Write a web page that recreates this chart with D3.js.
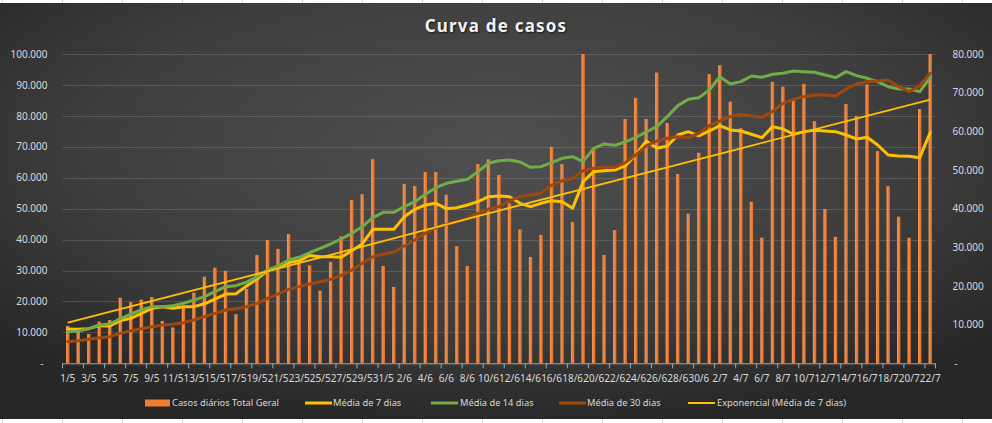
<!DOCTYPE html>
<html><head><meta charset="utf-8">
<script src="https://cdn.jsdelivr.net/npm/d3@7"></script>
<style>
html,body{margin:0;padding:0;background:#ffffff;}
svg{display:block;}
text{font-family:"Noto Sans","Open Sans",sans-serif;}
</style></head>
<body>
<svg id="chart" width="992" height="423"></svg>
<script>
// ---------------- DATA ----------------
const categories = ["1/5","2/5","3/5","4/5","5/5","6/5","7/5","8/5","9/5","10/5","11/5","12/5","13/5","14/5","15/5","16/5","17/5","18/5","19/5","20/5","21/5","22/5","23/5","24/5","25/5","26/5","27/5","28/5","29/5","30/5","31/5",
"1/6","2/6","3/6","4/6","5/6","6/6","7/6","8/6","9/6","10/6","11/6","12/6","13/6","14/6","15/6","16/6","17/6","18/6","19/6","20/6","21/6","22/6","23/6","24/6","25/6","26/6","27/6","28/6","29/6","30/6",
"1/7","2/7","3/7","4/7","5/7","6/7","7/7","8/7","9/7","10/7","11/7","12/7","13/7","14/7","15/7","16/7","17/7","18/7","19/7","20/7","21/7","22/7"];

// Casos diários Total Geral (left axis)
const casosDiarios = [12100,10200,9500,13500,14000,21200,19800,20600,21400,13700,11600,18300,22800,28000,30900,29900,15900,24000,35000,39900,37000,41800,32300,31700,23500,32800,41000,52800,54700,66000,31500,
24700,58000,57300,61900,61900,54500,37900,31500,64400,66000,60900,51700,43300,34400,41500,70000,64400,45700,100000,69700,35000,43100,79000,85800,79000,94000,77700,61200,48400,68100,
93500,96400,84600,76000,52200,40600,91000,89400,85100,90300,78300,49900,40900,83800,80000,90200,68600,57300,47400,40600,82200,100000];

// Moving averages (right axis, thousands)
const media7 = [8.87,8.79,8.96,9.73,9.65,11.03,11.63,12.93,14.22,14.65,14.22,14.65,14.65,15.4,16.6,17.9,18.0,20.0,21.8,24.0,24.9,26.1,26.5,27.9,27.58,27.58,27.41,29.13,30.86,34.65,34.65,34.65,37.93,39.83,40.95,41.38,40.0,40.26,40.95,41.81,43.1,43.27,43.1,41.38,40.52,41.38,42.07,41.81,40.09,46.98,49.57,49.83,50.0,51.04,53.88,57.5,55.6,56.21,59.05,59.92,58.8,60.09,61.47,60.35,60.09,59.23,58.36,61.21,60.61,59.23,59.92,60.26,60.09,59.92,59.05,58.02,58.45,56.47,53.88,53.62,53.53,53.19,59.74];
const media14 = [8.18,8.35,8.96,9.91,10.17,11.54,12.75,13.79,14.65,14.65,14.91,15.51,16.37,17.24,18.53,19.82,20.08,21.0,22.41,24.13,25.17,26.72,27.41,28.62,29.74,30.86,32.15,33.62,35.34,37.67,39.05,39.05,40.52,41.81,43.71,45.43,46.55,47.07,47.59,49.57,51.73,52.41,52.59,52.07,50.69,50.86,51.9,53.02,53.45,52.15,55.6,56.73,56.38,57.24,58.45,59.83,61.21,63.8,66.64,68.28,68.7,70.69,74.14,72.25,72.85,74.31,73.97,74.75,75.0,75.61,75.43,75.26,74.57,73.88,75.43,74.4,73.71,72.85,71.55,70.95,70.95,70.26,73.88];
const media30 = [5.6,5.85,6.2,6.63,6.89,7.75,8.44,8.96,9.47,9.91,10.08,10.51,11.2,12.06,12.93,13.79,14.13,14.65,15.51,16.81,17.93,19.13,19.82,20.51,21.11,21.72,22.75,24.13,25.86,27.58,28.19,28.79,30.34,31.89,33.62,35.08,35.95,36.64,37.5,38.79,39.9,40.52,42.07,43.1,43.53,43.97,46.12,47.16,47.76,49.83,50.43,50.69,50.69,51.9,53.88,56.21,57.5,58.19,58.62,58.36,59.5,61.47,62.68,63.8,64.4,63.97,63.62,65.09,67.25,68.28,68.97,69.4,69.4,69.14,70.95,72.25,72.85,73.02,73.28,71.55,70.26,71.81,75.0];

// Exponencial (Média de 7 dias) trendline, read at a few dates (right axis, thousands)
const trendDates = ["1/5","18/5","30/5","10/6","3/7","22/7"];
const trendValues = [10.5,22.4,30.9,38.8,54.9,68.2];

const leftTicks = [0,10000,20000,30000,40000,50000,60000,70000,80000,90000,100000];
const rightTicks = [0,10000,20000,30000,40000,50000,60000,70000,80000];

const titleText = "Curva de casos";
const legendLabels = ["Casos diários Total Geral","Média de 7 dias","Média de 14 dias","Média de 30 dias","Exponencial (Média de 7 dias)"];

// ---------------- DRAW ----------------
const W = 992, H = 423;
const svg = d3.select("#chart");
const defs = svg.append("defs");

const bg = defs.append("radialGradient").attr("id","bg")
  .attr("cx","50%").attr("cy","35%").attr("r","68%");
bg.append("stop").attr("offset","0%").attr("stop-color","#4f4f4f");
bg.append("stop").attr("offset","60%").attr("stop-color","#3e3e3e");
bg.append("stop").attr("offset","100%").attr("stop-color","#272727");

const barGrad = defs.append("linearGradient").attr("id","barg").attr("x1","0").attr("x2","1").attr("y1","0").attr("y2","0");
barGrad.append("stop").attr("offset","0%").attr("stop-color","#f39a5c");
barGrad.append("stop").attr("offset","100%").attr("stop-color","#e2691c");

// spreadsheet strips
svg.append("rect").attr("x",0).attr("y",0).attr("width",W).attr("height",H).attr("fill","#ffffff");
const colLines = d3.range(2.5, W, 60);
svg.append("g").selectAll("line").data(colLines).join("line")
  .attr("x1",d=>d).attr("x2",d=>d).attr("y1",0).attr("y2",H)
  .attr("stroke","#d4d4d4").attr("stroke-width",1);

// chart area background
svg.append("rect").attr("x",0).attr("y",3).attr("width",W).attr("height",416).attr("fill","url(#bg)");

const plotL = 62.5, plotR = 935.5, plotT = 54, plotB = 363.3;

const x = d3.scaleBand().domain(categories).range([plotL, plotR])
  .paddingInner(0.68).paddingOuter(0.34);
const bw = x.bandwidth();
const step = x.step();
const cx = c => x(c) + bw/2;

const yL = d3.scaleLinear().domain([0,100000]).range([plotB, plotT]);
const yR = d3.scaleLinear().domain([0,80000]).range([plotB, plotT]);

const fmtLocale = d3.formatLocale({decimal:",", thousands:".", grouping:[3], currency:["",""]});
const fmt = v => v === 0 ? "-" : fmtLocale.format(",")(v);

// gridlines
svg.append("g").selectAll("line").data(leftTicks.filter(t=>t>0)).join("line")
  .attr("x1",plotL).attr("x2",plotR)
  .attr("y1",d=>Math.round(yL(d))+0.5).attr("y2",d=>Math.round(yL(d))+0.5)
  .attr("stroke","#ffffff").attr("stroke-opacity",0.14).attr("stroke-width",1);

// left axis
const axL = svg.append("g").attr("transform",`translate(${plotL-12},0)`)
  .call(d3.axisLeft(yL).tickValues(leftTicks).tickFormat(fmt).tickSize(0));
axL.select(".domain").remove();
axL.selectAll("text").attr("fill","#d9d9d9").attr("font-size",10)
  .attr("dx", d => d===0 ? -4 : 0);

// right axis
const axR = svg.append("g").attr("transform",`translate(${plotR+14},0)`)
  .call(d3.axisRight(yR).tickValues(rightTicks).tickFormat(fmt).tickSize(0));
axR.select(".domain").remove();
axR.selectAll("text").attr("fill","#d9d9d9").attr("font-size",10)
  .attr("dx", d => d===0 ? 2 : 0);

// bars
svg.append("g").selectAll("rect").data(casosDiarios).join("rect")
  .attr("x",(d,i)=>x(categories[i]))
  .attr("width",bw)
  .attr("y",d=>yL(d))
  .attr("height",d=>plotB - yL(d))
  .attr("fill","url(#barg)");

// x axis baseline and ticks
svg.append("line").attr("x1",plotL).attr("x2",plotR).attr("y1",plotB+0.5).attr("y2",plotB+0.5)
  .attr("stroke","#a6a6a6").attr("stroke-width",1);
const tickCats = categories.filter((c,i)=>i%2===0);
svg.append("g").selectAll("line").data(tickCats).join("line")
  .attr("x1",c=>cx(c)-step/2).attr("x2",c=>cx(c)-step/2)
  .attr("y1",plotB).attr("y2",plotB+5)
  .attr("stroke","#a6a6a6").attr("stroke-width",1);
svg.append("line").attr("x1",plotR).attr("x2",plotR).attr("y1",plotB).attr("y2",plotB+5)
  .attr("stroke","#a6a6a6").attr("stroke-width",1);

const axX = svg.append("g").attr("transform",`translate(0,${plotB+9})`)
  .call(d3.axisBottom(x).tickValues(tickCats).tickSize(0));
axX.select(".domain").remove();
axX.selectAll("text").attr("fill","#d9d9d9").attr("font-size",10);

// lines
const lineGen = d3.line().x((d,i)=>cx(categories[i])).y(d=>yR(d*1000)).curve(d3.curveLinear);
const series = [
  {data:media7, color:"#ffc000", w:3},
  {data:media14, color:"#70ad47", w:3},
  {data:media30, color:"#9e480e", w:3}
];
series.forEach(s=>{
  svg.append("path").datum(s.data).attr("d",lineGen)
    .attr("fill","none").attr("stroke",s.color).attr("stroke-width",s.w)
    .attr("stroke-linejoin","round").attr("stroke-linecap","round");
});
const trendLine = d3.line().x((d,i)=>cx(trendDates[i])).y(d=>yR(d*1000));
svg.append("path").datum(trendValues).attr("d",trendLine)
  .attr("fill","none").attr("stroke","#ffc000").attr("stroke-width",1.8);

// title
svg.append("text").attr("x",496).attr("y",32).attr("text-anchor","middle")
  .attr("fill","#f2f2f2").attr("font-size",17).attr("font-weight","bold")
  .attr("letter-spacing",1.2)
  .style("text-shadow","1px 1px 2px rgba(0,0,0,0.7)")
  .text(titleText);

// legend
const legY = 403;
const legItems = [
  {type:"rect", color:"#ed7d31", x0:145, x1:170, tx:172},
  {type:"line", color:"#ffc000", w:3, x0:305, x1:332, tx:333},
  {type:"line", color:"#70ad47", w:3, x0:431, x1:458, tx:460},
  {type:"line", color:"#9e480e", w:3, x0:559, x1:586, tx:587},
  {type:"line", color:"#ffc000", w:2, x0:688, x1:715, tx:717}
];
const lg = svg.append("g");
legItems.forEach((it,i)=>{
  if(it.type==="rect"){
    lg.append("rect").attr("x",it.x0).attr("y",legY-3.5).attr("width",it.x1-it.x0).attr("height",7).attr("fill",it.color);
  } else {
    lg.append("line").attr("x1",it.x0).attr("x2",it.x1).attr("y1",legY).attr("y2",legY)
      .attr("stroke",it.color).attr("stroke-width",it.w);
  }
  lg.append("text").attr("x",it.tx).attr("y",legY+3.3).attr("fill","#d9d9d9")
    .attr("font-size",9.3).text(legendLabels[i]);
});
</script>
</body></html>
